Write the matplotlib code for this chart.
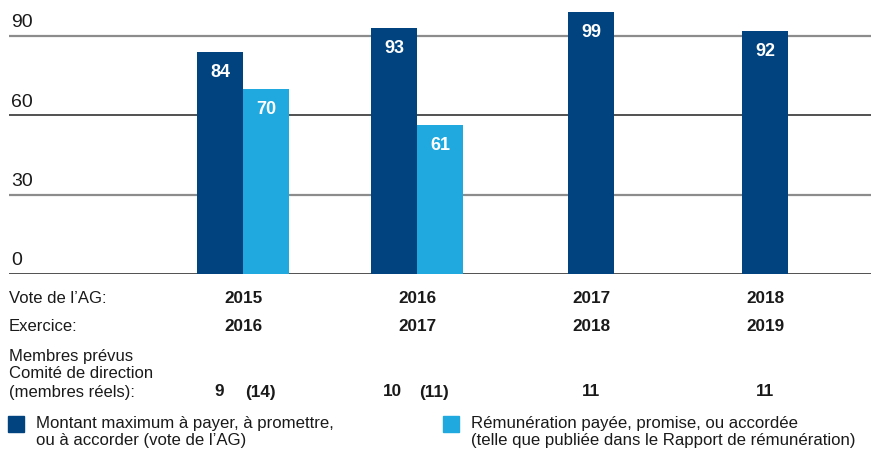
import matplotlib
matplotlib.use("Agg")
import matplotlib.pyplot as plt
import matplotlib.transforms as mtransforms
from matplotlib.patches import Rectangle

plt.rcParams['font.family'] = ['Liberation Sans', 'DejaVu Sans']

# data
vote_ag = ['2015', '2016', '2017', '2018']
exercice = ['2016', '2017', '2018', '2019']
max_amount = [84, 93, 99, 92]
# drawn bar heights (the 2016 bar is drawn shorter than its label says)
paid = [70, 56.5, None, None]
paid_labels = ['70', '61', '', '']
members_planned = ['9', '10', '11', '11']
members_actual = ['(14)', '(11)', '', '']
yticks = [0, 30, 60, 90]

dark = '#00437f'
light = '#1fa9df'
txt = '#1a1a1a'

W, H = 871, 473
fig = plt.figure(figsize=(W / 100, H / 100), dpi=100)


def fy(py):
    return 1 - py / H


ax = fig.add_axes([9 / W, fy(274), 1 - 9 / W, (274 - 0) / H])
ax.set_ylim(0, 274 / 2.644)
x0 = -(243 - 9) / 174
ax.set_xlim(x0, x0 + (W - 9) / 174)
ax.axis('off')

bw = 46 / 174
for i, (m, p) in enumerate(zip(max_amount, paid)):
    if p is None:
        xd = i
    else:
        xd = i - bw / 2
        ax.bar(i + bw / 2, p, width=bw, color=light, zorder=3)
        ax.text(i + bw / 2, p - 7.8, paid_labels[i], ha='center', va='center',
                color='white', fontsize=13, fontweight='bold', zorder=4)
    ax.bar(xd, m, width=bw, color=dark, zorder=3)
    ax.text(xd, m - 7.8, str(m), ha='center', va='center',
            color='white', fontsize=13, fontweight='bold', zorder=4)

for t in yticks:
    col = '#8c8c8c' if t in (30, 90) else '#222222'
    lw = 1.6 if t in (30, 90) else 1.1
    ax.axhline(t, color=col, lw=lw, zorder=1)
    ax.text(x0 + 2 / 174, t + 5.0, str(t), ha='left', va='center',
            fontsize=14, color=txt)

# table rows below the chart
tr = mtransforms.blended_transform_factory(ax.transData, fig.transFigure)
fig.text(9 / W, fy(298), "Vote de l\u2019AG:", fontsize=12, va='center', color=txt)
fig.text(9 / W, fy(326), "Exercice:", fontsize=12, va='center', color=txt)
fig.text(9 / W, fy(356), "Membres prévus", fontsize=12, va='center', color=txt)
fig.text(9 / W, fy(374), "Comité de direction", fontsize=12, va='center', color=txt)
fig.text(9 / W, fy(392), "(membres réels):", fontsize=12, va='center', color=txt)

for i in range(len(vote_ag)):
    ax.text(i, fy(298), vote_ag[i], transform=tr, ha='center', va='center',
            fontsize=12.3, fontweight='bold', color=txt)
    ax.text(i, fy(326), exercice[i], transform=tr, ha='center', va='center',
            fontsize=12.3, fontweight='bold', color=txt)
    if members_actual[i]:
        ax.text(i - 0.14, fy(392), members_planned[i], transform=tr, ha='center',
                va='center', fontsize=12.3, fontweight='bold', color=txt)
        ax.text(i + 0.1, fy(392), members_actual[i], transform=tr, ha='center',
                va='center', fontsize=12.3, fontweight='bold', color=txt)
    else:
        ax.text(i, fy(392), members_planned[i], transform=tr, ha='center',
                va='center', fontsize=12.3, fontweight='bold', color=txt)

# legend
for sx, col, lines in [(8, dark, ["Montant maximum à payer, à promettre,",
                                  "ou à accorder (vote de l\u2019AG)"]),
                       (443, light, ["Rémunération payée, promise, ou accordée",
                                     "(telle que publiée dans le Rapport de rémunération)"])]:
    fig.patches.append(Rectangle((sx / W, fy(432)), 16 / W, 16 / H,
                                 transform=fig.transFigure, color=col))
    fig.text((sx + 28) / W, fy(423), lines[0], fontsize=12.1, va='center', color=txt)
    fig.text((sx + 28) / W, fy(440), lines[1], fontsize=12.1, va='center', color=txt)

fig.savefig('out.png', dpi=100)
